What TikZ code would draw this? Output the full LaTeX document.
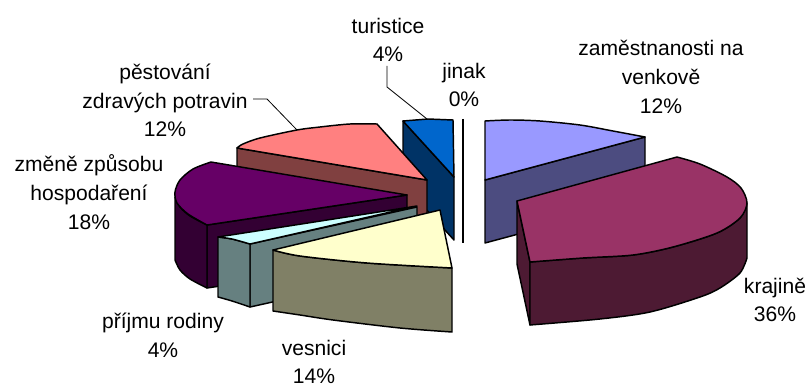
\documentclass[tikz,border=0pt]{standalone}
\usepackage{fontspec}
\setmainfont{Liberation Sans}
\definecolor{zamTop}{HTML}{9999FF}
\definecolor{zamSide}{HTML}{4C4C80}
\definecolor{kraTop}{HTML}{993366}
\definecolor{kraSide}{HTML}{4D1A33}
\definecolor{vesTop}{HTML}{FFFFCC}
\definecolor{vesSide}{HTML}{808066}
\definecolor{priTop}{HTML}{CCFFFF}
\definecolor{priSide}{HTML}{668080}
\definecolor{zmeTop}{HTML}{660066}
\definecolor{zmeSide}{HTML}{330033}
\definecolor{pesTop}{HTML}{FF8080}
\definecolor{pesSide}{HTML}{804040}
\definecolor{turTop}{HTML}{0066CC}
\definecolor{turSide}{HTML}{003366}
\begin{document}
\begin{tikzpicture}[x=0.75pt,y=-0.75pt,
  face/.style={draw=black,line width=1.1pt,line join=round},
  lbl/.style={align=center,font=\fontsize{15.8}{21.5}\selectfont,inner sep=0pt,text=black},
  leader/.style={draw=black,line width=0.6pt}]
\useasboundingbox (0,0) rectangle (808,385);

% turistice 4%
\draw[face,fill=turSide] (403,121) -- (454,177) -- (454,240) -- (403,184) -- cycle;
\draw[face,fill=turTop] (403,121) -- (428,119) -- (453,120) -- (454,177) -- cycle;

% pestovani 12%
\draw[face,fill=pesSide] (237,148) -- (427,180) -- (427,243) -- (237,211) -- cycle;
\draw[face,fill=pesTop] (427,180) -- (237,148) -- plot[smooth] coordinates {(237,148) (243,144) (260,138) (297,130) (320,127) (350,124) (377,124)} -- cycle;

% zamestnanosti 12%
\draw[face,fill=zamSide] (485,180) -- (645,137) -- (645,200) -- (485,243) -- cycle;
\draw[face,fill=zamTop] (485,180) -- (485,121) -- plot[smooth] coordinates {(485,121) (510,120) (540,121) (580,125) (613,131) (645,137)} -- cycle;

% jinak 0%
\draw[line width=1.6pt] (463,119) -- (463,243);

% zmene zpusobu hospodareni 18%
\draw[face,fill=zmeSide] (207,225) -- (407,195) -- (407,258) -- (207,288) -- cycle;
\draw[face,fill=zmeSide] plot[smooth] coordinates {(207,225) (190,216) (180,207) (175,197)} -- (175,260) -- plot[smooth] coordinates {(175,260) (180,270) (190,279) (207,288)} -- cycle;
\draw[face,fill=zmeTop] (407,195) -- (211,162) -- plot[smooth] coordinates {(211,162) (193,169) (180,180) (175,192) (177,203) (188,214) (207,225)} -- cycle;

% prijmu rodiny 4%
\draw[face,fill=priSide] (250,244) -- (417,207) -- (417,270) -- (250,307) -- cycle;
\draw[face,fill=priSide] plot[smooth] coordinates {(218,237) (232,239) (250,244)} -- (250,307) -- plot[smooth] coordinates {(250,307) (232,301) (218,297)} -- cycle;
\draw[face,fill=priTop] (417,206) -- (218,237) -- plot[smooth] coordinates {(218,237) (232,239) (250,244)} -- cycle;

% vesnici 14%
\draw[face,fill=vesSide] plot[smooth] coordinates {(273,250) (300,256) (367,263) (452,268)} -- (452,332) -- plot[smooth] coordinates {(452,332) (400,328) (333,320) (300,315) (273,311)} -- cycle;
\draw[face,fill=vesTop] (440,210) -- (273,250) -- plot[smooth] coordinates {(273,250) (300,256) (367,263) (452,268)} -- cycle;

% krajine 36%
\draw[face,fill=kraSide] (517,201) -- (530,262) -- (530,325) -- (517,264) -- cycle;
\draw[face,fill=kraSide] plot[smooth] coordinates {(530,262) (583,258) (633,255) (673,247) (717,233) (740,218) (747,203)} -- (747,258) -- plot[smooth] coordinates {(747,258) (740,273) (720,288) (700,297) (650,312) (600,319) (530,325)} -- cycle;
\draw[face,fill=kraTop] (517,201) -- (677,157) -- plot[smooth] coordinates {(677,157) (700,164) (727,177) (741,188) (747,203) (740,218) (717,233) (673,247) (633,255) (583,258) (530,262)} -- cycle;

% labels
\node[lbl] (lzam) at (661,77) {zaměstnanosti na\\venkově\\12\%};
\node[lbl] (lkra) at (775,300) {krajině\\36\%};
\node[lbl] (lves) at (314,362) {vesnici\\14\%};
\node[lbl] (lpri) at (163,335.5) {příjmu rodiny\\4\%};
\node[lbl] (lzme) at (89,192) {změně způsobu\\hospodaření\\18\%};
\node[lbl] (lpes) at (165,100.5) {pěstování\\zdravých potravin\\12\%};
\node[lbl] (ltur) at (388,40) {turistice\\4\%};
\node[lbl] (ljin) at (464,85) {jinak\\0\%};

% leader lines
\coordinate (pesA) at (253,99);
\coordinate (pesB) at (267,99);
\coordinate (pesC) at (297,130);
\draw[leader] (pesA) -- (pesB) -- (pesC);
\coordinate (turA) at (387,66);
\coordinate (turB) at (387,87);
\coordinate (turC) at (427,119);
\draw[leader] (turA) -- (turB) -- (turC);
\end{tikzpicture}
\end{document}
